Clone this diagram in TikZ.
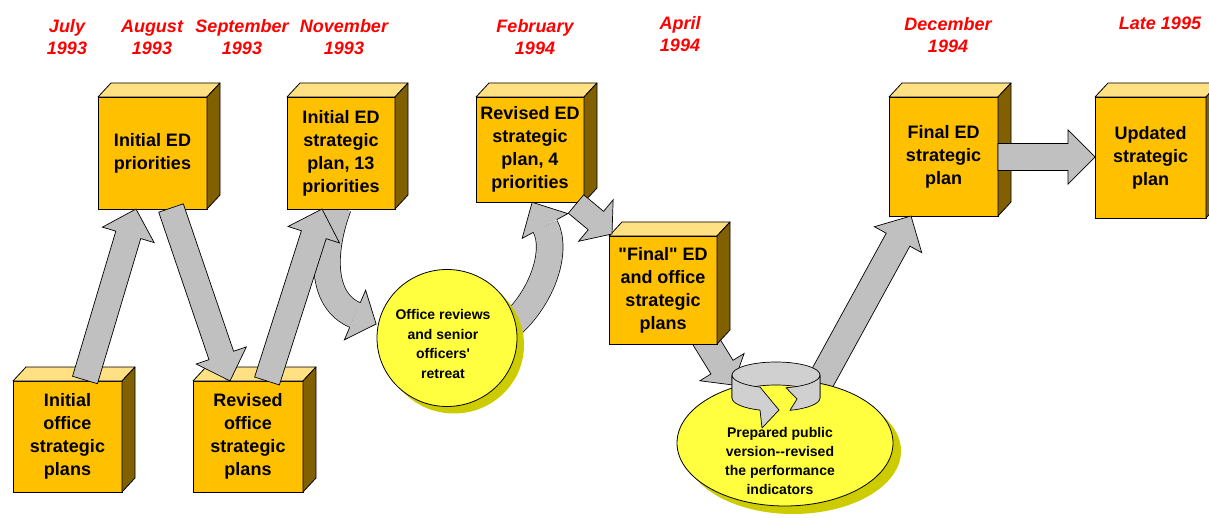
\documentclass[tikz,border=0pt]{standalone}
\usepackage{fontspec}
\setmainfont{Liberation Sans}[Ligatures=TeXOff]
\usetikzlibrary{calc,shapes.geometric}
\definecolor{boxfront}{HTML}{FFC000}
\definecolor{boxtop}{HTML}{FFE082}
\definecolor{boxside}{HTML}{806000}
\definecolor{arrowgray}{HTML}{C0C0C0}
\definecolor{icongray}{HTML}{D0D0D0}
\definecolor{ellfill}{HTML}{FFFF40}
\definecolor{ellshadow}{HTML}{CCCC00}
\definecolor{datered}{HTML}{FF0000}
\tikzset{
 frontbox/.style={draw=black, line width=0.8pt, fill=boxfront, inner sep=0pt, outer sep=0pt, align=center, font=\fontsize{18}{23}\selectfont\bfseries},
 topface/.style={draw=black, line width=0.8pt, fill=boxtop, line join=round},
 sideface/.style={draw=black, line width=0.8pt, fill=boxside, line join=round},
 arrowbody/.style={draw=black, line width=0.7pt, fill=arrowgray, line join=miter},
 curvebody/.style={draw=black, line width=0.7pt, double=arrowgray, double distance=26pt},
 datelabel/.style={text=datered, align=center, font=\fontsize{18}{22}\selectfont\bfseries\itshape, inner sep=0pt},
 ellnode/.style={ellipse, draw=black, line width=0.8pt, fill=ellfill, inner sep=0pt},
 elltext/.style={align=center, font=\fontsize{14}{19.5}\selectfont\bfseries, inner sep=0pt},
 iconpart/.style={draw=black, line width=0.7pt, fill=icongray, line join=round},
}
% name, cx, cy (pixels, down), w, h, text
\newcommand\cubebox[6]{%
 \node[frontbox, minimum width=#4pt, minimum height=#5pt] (#1) at (#2,-#3) {#6};
 \draw[topface] (#1.north west) -- ++(13,14) -- ([shift={(13,14)}]#1.north east) -- (#1.north east) -- cycle;
 \draw[sideface] (#1.north east) -- ++(13,14) -- ([shift={(13,14)}]#1.south east) -- (#1.south east) -- cycle;}
% start, end, half shaft, half head, head length
\newcommand\blockarrow[5]{%
 \path ($(#2)!#5!(#1)$) coordinate (tmpH);
 \draw[arrowbody] ($(#1)!#3!90:(#2)$) -- ($(tmpH)!#3!-90:(#1)$) -- ($(tmpH)!#4!-90:(#1)$) -- (#2) -- ($(tmpH)!#4!90:(#1)$) -- ($(tmpH)!#3!90:(#1)$) -- ($(#1)!#3!-90:(#2)$) -- cycle;}
% base, previous control, half head, head length
\newcommand\curvehead[4]{%
 \path ($(#1)!-#4!(#2)$) coordinate (tmpT);
 \filldraw[arrowbody] ($(#1)!13.35pt!90:(tmpT)$) -- ($(#1)!#3!90:(tmpT)$) -- (tmpT) -- ($(#1)!#3!-90:(tmpT)$) -- ($(#1)!13.35pt!-90:(tmpT)$);}

\begin{document}
\begin{tikzpicture}[x=1pt,y=1pt]
\useasboundingbox (0,0) rectangle (1209,-518);

% dates
\node[datelabel] (d1) at (67,-37) {July\\1993};
\node[datelabel] (d2) at (152,-37) {August\\1993};
\node[datelabel] (d3) at (242,-37) {September\\1993};
\node[datelabel] (d4) at (344,-37) {November\\1993};
\node[datelabel] (d5) at (535,-37) {February\\1994};
\node[datelabel] (d6) at (680,-34) {April\\1994};
\node[datelabel] (d7) at (948,-35) {December\\1994};
\node[datelabel] (d8) at (1160,-23) {Late 1995};

% arrows drawn beneath boxes
\coordinate (c4s) at (338,-207);
\coordinate (c4a) at (322,-250);
\coordinate (c4b) at (320,-300);
\coordinate (c4e) at (355,-315);
\draw[curvebody] (c4s) .. controls (c4a) and (c4b) .. (c4e);
\curvehead{c4e}{c4b}{27pt}{23pt}
\coordinate (a7s) at (704,-338);
\coordinate (a7e) at (733,-385);
\blockarrow{a7s}{a7e}{13pt}{26pt}{21pt}

% boxes
\cubebox{ied}{152.5}{153}{109}{112}{Initial ED\\priorities}
\cubebox{iedsp}{341}{153}{108}{112}{Initial ED\\strategic\\plan, 13\\priorities}
\cubebox{ioff}{67.5}{436.5}{109}{111}{Initial\\office\\strategic\\plans}
\cubebox{roff}{248}{436.5}{110}{111}{Revised\\office\\strategic\\plans}
\cubebox{red}{530}{149.5}{108}{105}{Revised ED\\strategic\\plan, 4\\priorities}
\cubebox{fin}{663}{290}{108}{108}{"Final" ED\\and office\\strategic\\plans}
\cubebox{fedsp}{943.5}{156.5}{109}{119}{Final ED\\strategic\\plan}
\cubebox{upd}{1150.5}{157.5}{111}{121}{Updated\\strategic\\plan}

% straight arrows
\coordinate (a1s) at (85,-380);  \coordinate (a1e) at (136,-209);
\coordinate (a2s) at (171,-208); \coordinate (a2e) at (230,-381);
\coordinate (a3s) at (267,-381); \coordinate (a3e) at (322,-209);
\coordinate (a6s) at (576,-204); \coordinate (a6e) at (612,-234);
\coordinate (a9s) at (998,-157); \coordinate (a9e) at (1095,-157);
\blockarrow{a1s}{a1e}{13pt}{27pt}{27pt}
\blockarrow{a2s}{a2e}{13pt}{26.5pt}{27pt}
\blockarrow{a3s}{a3e}{13pt}{27pt}{27pt}
\blockarrow{a6s}{a6e}{12pt}{27pt}{21pt}
\blockarrow{a9s}{a9e}{13.5pt}{27pt}{27pt}

% curved arrow from retreat to revised plan
\coordinate (c5s) at (510,-326);
\coordinate (c5a) at (543,-297);
\coordinate (c5b) at (558,-250);
\coordinate (c5e) at (545,-226);
\draw[curvebody] (c5s) .. controls (c5a) and (c5b) .. (c5e);
\curvehead{c5e}{c5b}{26pt}{27pt}

% ellipse 1
\fill[ellshadow] (454,-345) ellipse [x radius=70pt, y radius=68.5pt];
\node[ellnode, minimum width=140pt, minimum height=137pt] (e1) at (447,-338) {};
\node[elltext] (e1t) at (443,-344) {Office reviews\\and senior\\officers'\\retreat};

% arrow to final ED strategic plan
\coordinate (a8s) at (813,-395); \coordinate (a8e) at (911,-216);
\blockarrow{a8s}{a8e}{13.5pt}{27pt}{27pt}

% ellipse 2
\fill[ellshadow] (793,-451) ellipse [x radius=108pt, y radius=63pt];
\node[ellnode, minimum width=216pt, minimum height=126pt] (e2) at (785,-443) {};
\node[elltext, font=\fontsize{14}{18.8}\selectfont\bfseries] (e2t) at (780,-461) {Prepared public\\version--revised\\the performance\\indicators};

% circular arrow icon
\draw[iconpart] (732,-375) arc[start angle=180, end angle=0, x radius=44pt, y radius=13pt] -- (820,-398) arc[start angle=0, end angle=180, x radius=44pt, y radius=13pt] -- cycle;
\draw[iconpart] (732,-375) -- (732,-398) arc[start angle=180, end angle=248.7, x radius=44pt, y radius=13pt] -- (762,-428) -- (779,-410) -- (760,-387.1) arc[start angle=248.7, end angle=180, x radius=44pt, y radius=13pt] -- cycle;
\draw[iconpart] (786,-387.7) arc[start angle=283.1, end angle=360, x radius=44pt, y radius=13pt] -- (820,-398) arc[start angle=0, end angle=-71.5, x radius=44pt, y radius=13pt] -- (797,-399) -- cycle;
\end{tikzpicture}
\end{document}
